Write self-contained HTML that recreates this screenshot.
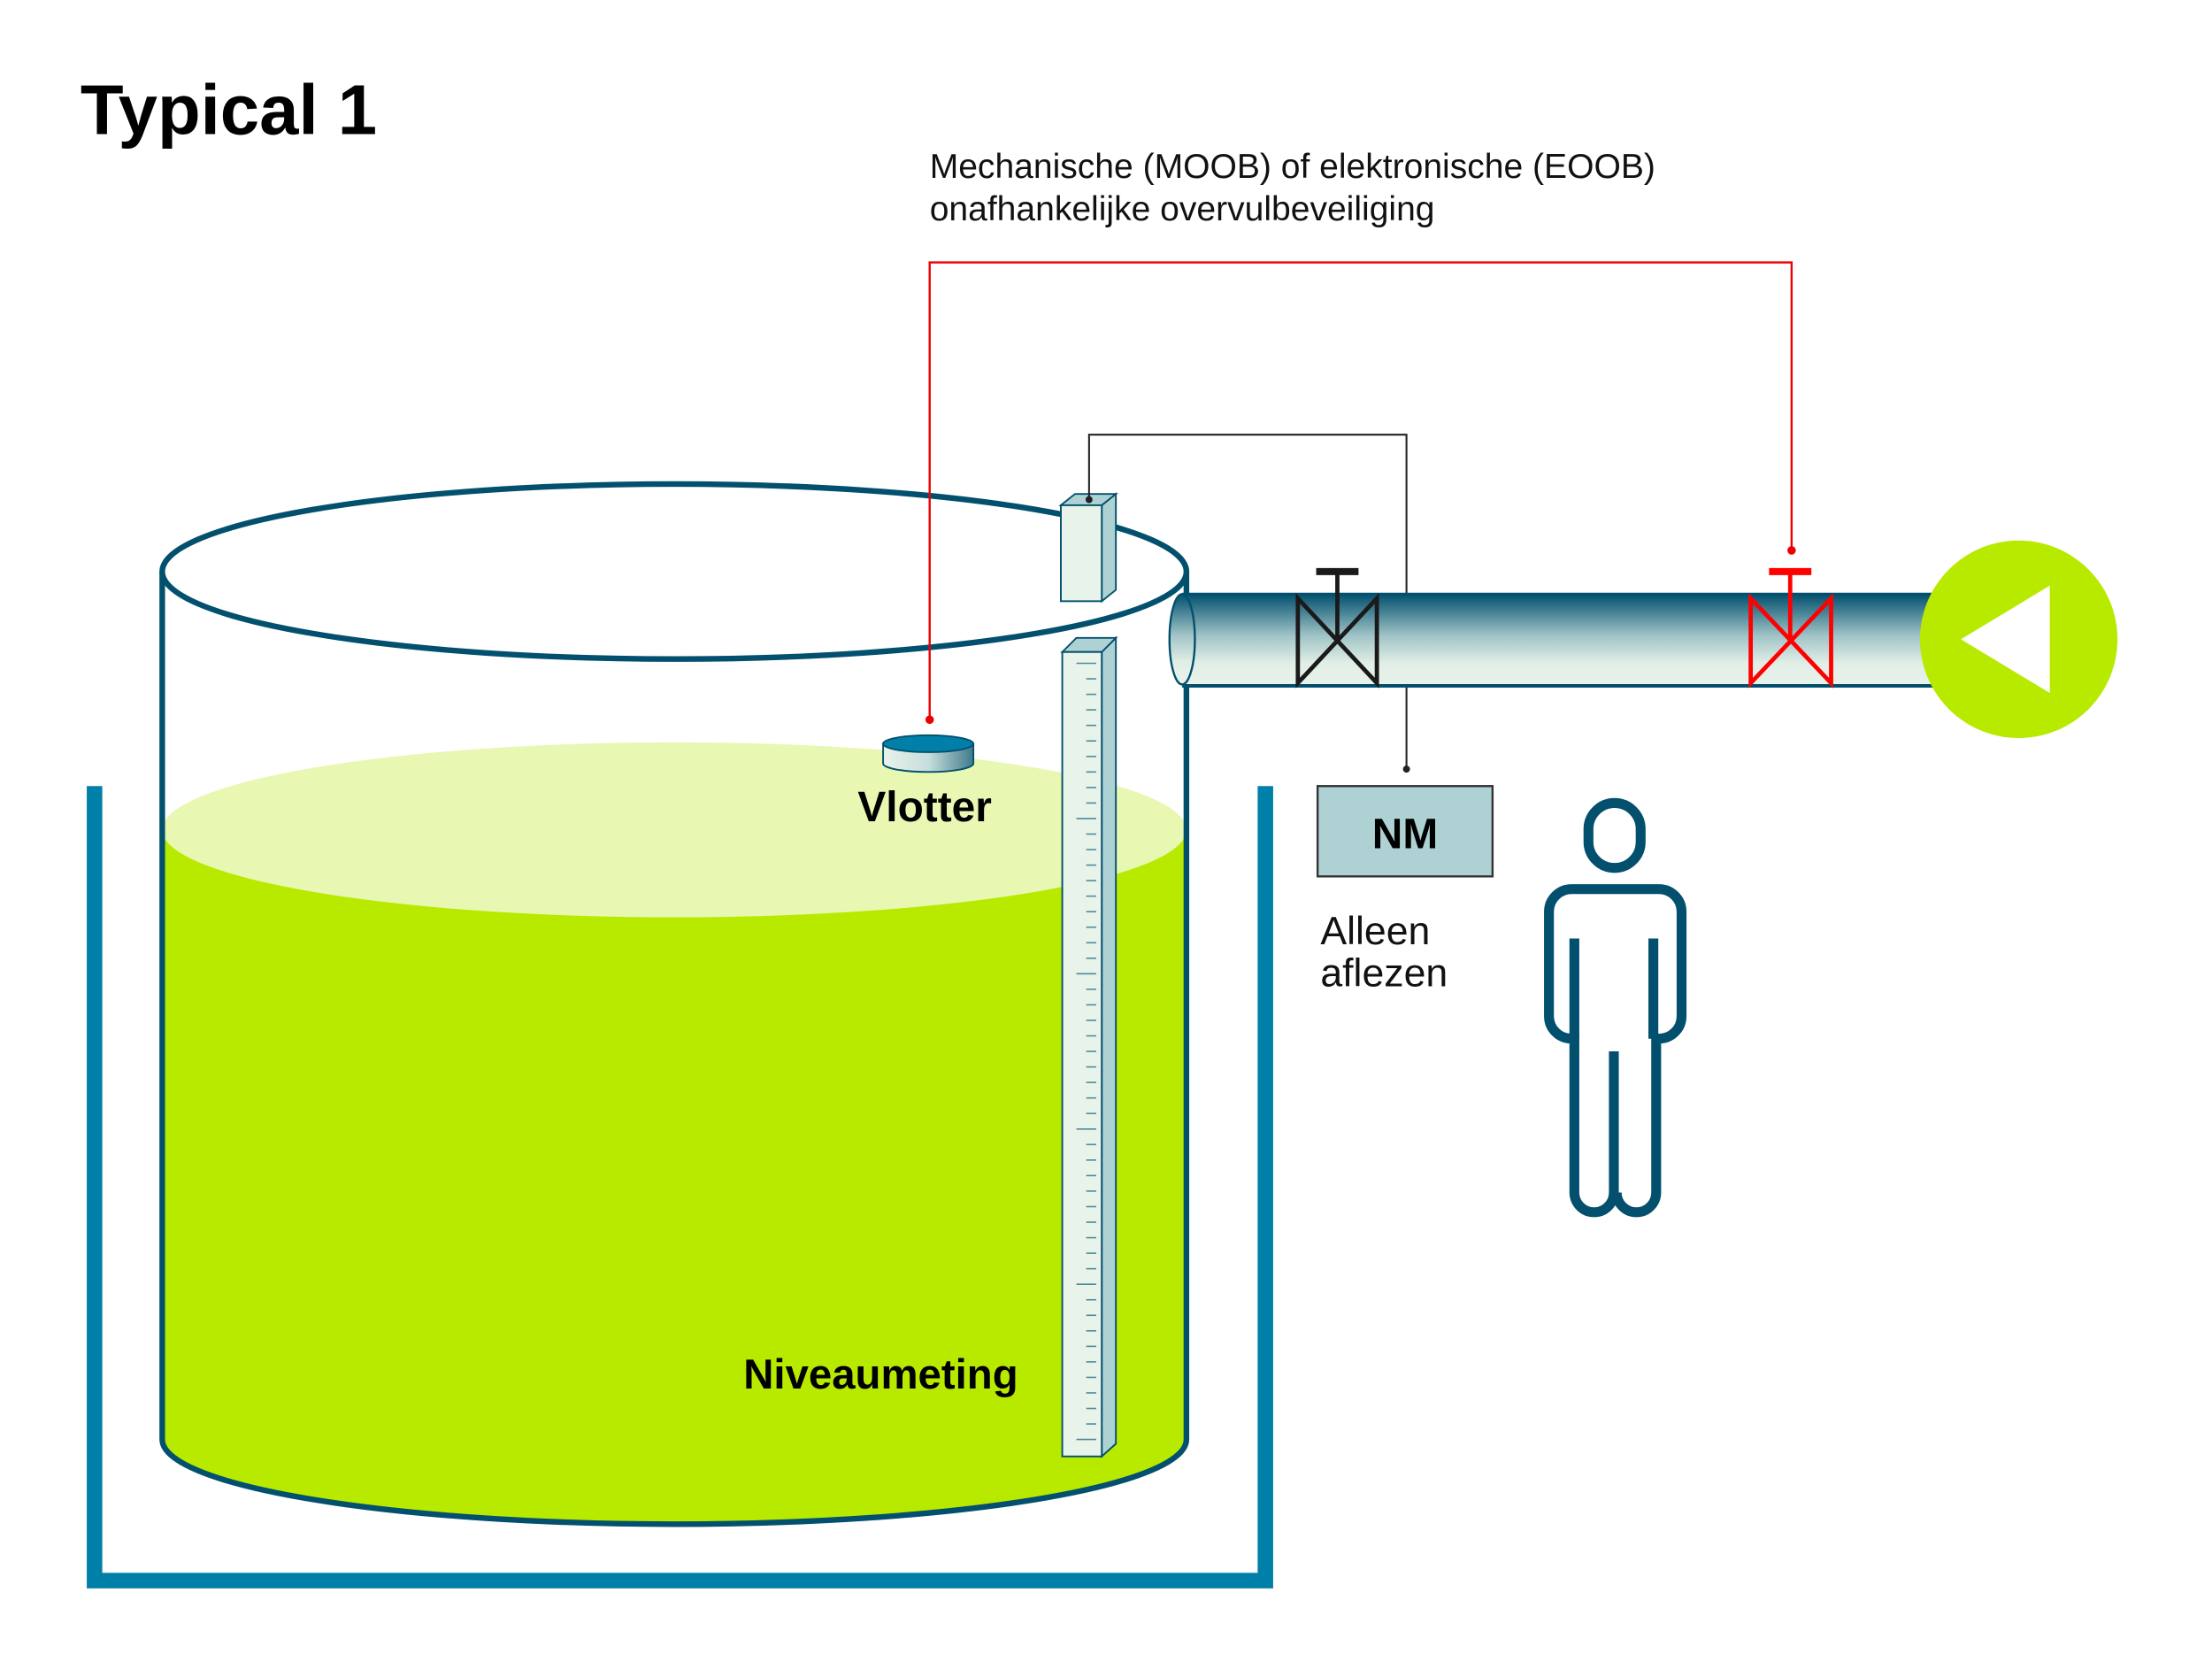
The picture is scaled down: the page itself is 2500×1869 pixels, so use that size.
<!DOCTYPE html>
<html><head><meta charset="utf-8"><style>html,body{margin:0;padding:0;background:#fff}svg{display:block}</style></head><body>
<svg width="2500" height="1869" viewBox="0 0 1568 1172" preserveAspectRatio="none" xmlns="http://www.w3.org/2000/svg" font-family="Liberation Sans, sans-serif">
<defs>
<linearGradient id="pg" x1="0" y1="0" x2="0" y2="1"><stop offset="0" stop-color="#03506E"/><stop offset="0.45" stop-color="#9FC3C6"/><stop offset="0.75" stop-color="#E1EEE6"/><stop offset="1" stop-color="#E8F3EA"/></linearGradient>
<linearGradient id="fg" x1="0" y1="0" x2="1" y2="0"><stop offset="0" stop-color="#E8F3EA"/><stop offset="0.5" stop-color="#C8DEDD"/><stop offset="1" stop-color="#3F7A8C"/></linearGradient>
</defs>
<text x="57" y="95" font-size="50" font-weight="bold" fill="#000">Typical 1</text>
<text x="659" y="126" font-size="24.5" fill="#111">Mechanische (MOOB) of elektronische (EOOB)</text>
<text x="659" y="156" font-size="24.5" fill="#111">onafhankelijke overvulbeveiliging</text>
<path d="M67,557 V1120 H897 V557" fill="none" stroke="#0080A8" stroke-width="11"/>
<path d="M115,588 H841 V1020 A363,60 0 0 1 115,1020 Z" fill="#B8EA00"/>
<ellipse cx="478" cy="588" rx="363" ry="62" fill="#E8F7B2"/>
<ellipse cx="478" cy="405" rx="363" ry="62" fill="none" stroke="#03506E" stroke-width="4"/>
<path d="M115,405 V1020 A363,60 0 0 0 841,1020 V405" fill="none" stroke="#03506E" stroke-width="4"/>
<path d="M659,510 V186 H1270 V390" fill="none" stroke="#E00" stroke-width="1.5"/>
<circle cx="659" cy="510" r="3" fill="#E00"/><circle cx="1270" cy="390" r="3" fill="#E00"/>
<path d="M626,527 V541 A32,6 0 0 0 690,541 V527 Z" fill="url(#fg)" stroke="#03506E" stroke-width="1.2"/>
<ellipse cx="658" cy="527" rx="32" ry="6" fill="#0080A8" stroke="#03506E" stroke-width="1.2"/>
<text x="608" y="582" font-size="30" font-weight="bold" fill="#000">Vlotter</text>
<text x="527" y="984" font-size="29.7" font-weight="bold" fill="#000">Niveaumeting</text>
<path d="M781,462 L791,452 V1023 L781,1032 Z" fill="#AED2D3" stroke="#03506E" stroke-width="1.2"/>
<path d="M753,462 L763,452 H791 L781,462 Z" fill="#AED2D3" stroke="#03506E" stroke-width="1.2"/>
<rect x="753" y="462" width="28" height="570" fill="#E8F3EA" stroke="#03506E" stroke-width="1.2"/>
<path d="M781,358 L791,350 V418 L781,426 Z" fill="#AED2D3" stroke="#03506E" stroke-width="1.2"/>
<path d="M752,358 L762,350 H791 L781,358 Z" fill="#AED2D3" stroke="#03506E" stroke-width="1.2"/>
<rect x="752" y="358" width="29" height="68" fill="#E8F3EA" stroke="#03506E" stroke-width="1.2"/>
<path d="M772,354 V308 H997 V545" fill="none" stroke="#222" stroke-width="1.3"/>
<circle cx="772" cy="354" r="2.5" fill="#222"/><circle cx="997" cy="545" r="2.5" fill="#222"/>
<rect x="838" y="421" width="535" height="65" fill="url(#pg)"/>
<line x1="838" y1="421" x2="1373" y2="421" stroke="#03506E" stroke-width="2"/>
<line x1="838" y1="486" x2="1373" y2="486" stroke="#03506E" stroke-width="2.5"/>
<ellipse cx="838" cy="453" rx="9" ry="32" fill="url(#pg)" stroke="#03506E" stroke-width="1.5"/>
<g fill="none" stroke="#1a1a1a" stroke-width="3">
<path d="M920,424 L976,484 V424 L920,484 Z"/><path d="M948,405 V454"/><path d="M933,405 H963" stroke-width="5"/>
</g>
<g fill="none" stroke="#F00" stroke-width="3">
<path d="M1241,424 L1298,484 V424 L1241,484 Z"/><path d="M1269,405 V454"/><path d="M1254,405 H1284" stroke-width="5"/>
</g>
<circle cx="1431" cy="453" r="70" fill="#B8EA00"/>
<path d="M1390,453 L1453,415 V491 Z" fill="#fff"/>
<rect x="934" y="557" width="124" height="64" fill="#AED2D3" stroke="#333" stroke-width="1.5"/>
<text x="996" y="601" font-size="30" font-weight="bold" text-anchor="middle" fill="#000">NM</text>
<text x="936" y="669" font-size="28" fill="#111">Alleen</text>
<text x="936" y="699" font-size="28" fill="#111">aflezen</text>
<g fill="none" stroke="#03506E" stroke-width="7">
<rect x="1126" y="569" width="37" height="46" rx="18.5"/>
<path d="M1144,745 V845 a14,14 0 0 1 -28,0 V736 h-2 a16,16 0 0 1 -16,-16 V646 a16,16 0 0 1 16,-16 h62 a16,16 0 0 1 16,16 V720 a16,16 0 0 1 -16,16 h-2 V845 a14,14 0 0 1 -28,0"/>
<path d="M1116,665 V736 M1172,665 V736"/>
</g>
<g stroke="#4E8A98" stroke-width="1">
<line x1="763" y1="470" x2="777" y2="470"/><line x1="770" y1="481" x2="777" y2="481"/><line x1="770" y1="492" x2="777" y2="492"/><line x1="770" y1="503" x2="777" y2="503"/><line x1="770" y1="514" x2="777" y2="514"/><line x1="770" y1="525" x2="777" y2="525"/><line x1="770" y1="536" x2="777" y2="536"/><line x1="770" y1="547" x2="777" y2="547"/><line x1="770" y1="558" x2="777" y2="558"/><line x1="770" y1="569" x2="777" y2="569"/>
<line x1="763" y1="580" x2="777" y2="580"/><line x1="770" y1="591" x2="777" y2="591"/><line x1="770" y1="602" x2="777" y2="602"/><line x1="770" y1="613" x2="777" y2="613"/><line x1="770" y1="624" x2="777" y2="624"/><line x1="770" y1="635" x2="777" y2="635"/><line x1="770" y1="646" x2="777" y2="646"/><line x1="770" y1="657" x2="777" y2="657"/><line x1="770" y1="668" x2="777" y2="668"/><line x1="770" y1="679" x2="777" y2="679"/>
<line x1="763" y1="690" x2="777" y2="690"/><line x1="770" y1="701" x2="777" y2="701"/><line x1="770" y1="712" x2="777" y2="712"/><line x1="770" y1="723" x2="777" y2="723"/><line x1="770" y1="734" x2="777" y2="734"/><line x1="770" y1="745" x2="777" y2="745"/><line x1="770" y1="756" x2="777" y2="756"/><line x1="770" y1="767" x2="777" y2="767"/><line x1="770" y1="778" x2="777" y2="778"/><line x1="770" y1="789" x2="777" y2="789"/>
<line x1="763" y1="800" x2="777" y2="800"/><line x1="770" y1="811" x2="777" y2="811"/><line x1="770" y1="822" x2="777" y2="822"/><line x1="770" y1="833" x2="777" y2="833"/><line x1="770" y1="844" x2="777" y2="844"/><line x1="770" y1="855" x2="777" y2="855"/><line x1="770" y1="866" x2="777" y2="866"/><line x1="770" y1="877" x2="777" y2="877"/><line x1="770" y1="888" x2="777" y2="888"/><line x1="770" y1="899" x2="777" y2="899"/>
<line x1="763" y1="910" x2="777" y2="910"/><line x1="770" y1="921" x2="777" y2="921"/><line x1="770" y1="932" x2="777" y2="932"/><line x1="770" y1="943" x2="777" y2="943"/><line x1="770" y1="954" x2="777" y2="954"/><line x1="770" y1="965" x2="777" y2="965"/><line x1="770" y1="976" x2="777" y2="976"/><line x1="770" y1="987" x2="777" y2="987"/><line x1="770" y1="998" x2="777" y2="998"/><line x1="770" y1="1009" x2="777" y2="1009"/><line x1="763" y1="1020" x2="777" y2="1020"/>
</g>
</svg>
</body></html>
